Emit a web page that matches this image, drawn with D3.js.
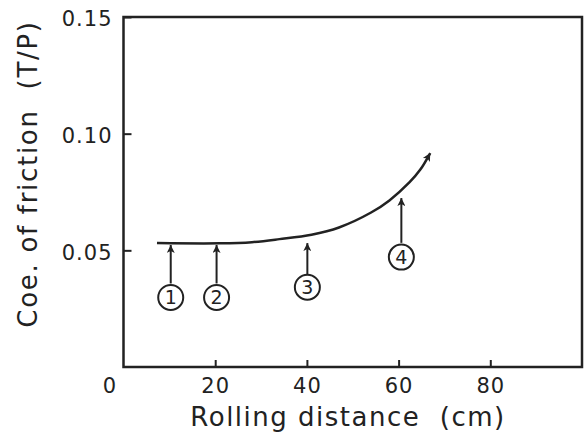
<!DOCTYPE html>
<html>
<head>
<meta charset="utf-8">
<script src="https://cdn.jsdelivr.net/npm/d3@7"></script>
<style>
  body { margin: 0; background: #fff; }
  text { font-family: "DejaVu Sans", sans-serif; fill: #222; }
</style>
</head>
<body>
<script>
var width = 587,
    height = 441;

// friction curve
var distance = [7.3, 21, 28, 34, 41, 47, 54, 58, 62.4, 64.7, 66.9];
var friction = [0.0531, 0.0530, 0.0535, 0.0548, 0.0567, 0.0598, 0.0662, 0.0714, 0.0792, 0.0845, 0.0917];

// numbered markers: x position, arrow tip, arrow tail, circle centre
var markerNames = ["1", "2", "3", "4"];
var markerX = [10.3, 20.3, 40.1, 60.6];
var markerTip = [0.0523, 0.0523, 0.0531, 0.0724];
var markerTail = [0.0358, 0.0358, 0.0398, 0.0532];
var markerLabel = [0.0298, 0.0298, 0.0342, 0.0471];

var xTicks = [20, 40, 60, 80];
var yTicks = [0.05, 0.10, 0.15];

var ink = "#222";

var x = d3.scaleLinear()
          .domain([0, 100])
          .range([123.5, 582]);

var y = d3.scaleLinear()
          .domain([0, 0.15])
          .range([367, 17]);

var svg = d3.select("body")
            .append("svg")
            .attr("width", width)
            .attr("height", height);

// arrow heads
var defs = svg.append("defs");
defs.append("marker")
    .attr("id", "head")
    .attr("viewBox", "0 0 10 10")
    .attr("refX", 10)
    .attr("refY", 5)
    .attr("markerUnits", "userSpaceOnUse")
    .attr("markerWidth", 12)
    .attr("markerHeight", 8)
    .attr("orient", "auto")
    .append("path")
    .attr("d", "M0,0 L10,5 L0,10 L2.5,5 Z")
    .attr("fill", ink);

// frame
svg.append("rect")
   .attr("x", x(0))
   .attr("y", y(0.15))
   .attr("width", x(100) - x(0))
   .attr("height", y(0) - y(0.15))
   .attr("fill", "none")
   .attr("stroke", ink)
   .attr("stroke-width", 2.5);

var yAxis = d3.axisLeft(y)
              .tickValues(yTicks)
              .tickSize(-8)
              .tickPadding(11)
              .tickFormat(d3.format(".2f"));

var xAxis = d3.axisBottom(x)
              .tickValues(xTicks)
              .tickSize(-7)
              .tickPadding(11);

var gy = svg.append("g")
            .attr("transform", "translate(" + x(0) + ",0)")
            .call(yAxis);

var gx = svg.append("g")
            .attr("transform", "translate(0," + y(0) + ")")
            .call(xAxis);

[gx, gy].forEach(function(g) {
  g.select(".domain").remove();
  g.selectAll("line").attr("stroke", ink).attr("stroke-width", 2);
  g.selectAll("text")
   .attr("font-size", 21)
   .attr("letter-spacing", 1)
   .attr("fill", ink);
});
gy.selectAll("text").attr("dy", "0.42em");

// shared origin label
svg.append("text")
   .attr("x", x(0) - 14)
   .attr("y", y(0) + 26)
   .attr("text-anchor", "middle")
   .attr("font-size", 21)
   .text("0");

// axis titles
svg.append("text")
   .attr("x", 348)
   .attr("y", 426)
   .attr("text-anchor", "middle")
   .attr("font-size", 26)
   .attr("letter-spacing", 1.5)
   .style("white-space", "pre")
   .text("Rolling distance  (cm)");

svg.append("text")
   .attr("transform", "translate(37,174) rotate(-90)")
   .attr("text-anchor", "middle")
   .attr("font-size", 26)
   .attr("letter-spacing", 1.7)
   .style("white-space", "pre")
   .text("Coe. of friction  (T/P)");

// curve
var line = d3.line()
             .x(function(d) { return x(d[0]); })
             .y(function(d) { return y(d[1]); })
             .curve(d3.curveCatmullRom.alpha(0.5));

svg.append("path")
   .datum(d3.zip(distance, friction))
   .attr("d", line)
   .attr("fill", "none")
   .attr("stroke", ink)
   .attr("stroke-width", 2.5)
   .attr("marker-end", "url(#head)");

// numbered arrows
var marks = svg.selectAll(".mark")
               .data(markerNames)
               .enter()
               .append("g")
               .attr("class", "mark");

marks.append("line")
     .attr("x1", function(d, i) { return x(markerX[i]); })
     .attr("x2", function(d, i) { return x(markerX[i]); })
     .attr("y1", function(d, i) { return y(markerTail[i]); })
     .attr("y2", function(d, i) { return y(markerTip[i]); })
     .attr("stroke", ink)
     .attr("stroke-width", 2)
     .attr("marker-end", "url(#head)");

marks.append("circle")
     .attr("cx", function(d, i) { return x(markerX[i]); })
     .attr("cy", function(d, i) { return y(markerLabel[i]); })
     .attr("r", 12.5)
     .attr("fill", "none")
     .attr("stroke", ink)
     .attr("stroke-width", 2);

marks.append("text")
     .attr("x", function(d, i) { return x(markerX[i]); })
     .attr("y", function(d, i) { return y(markerLabel[i]); })
     .attr("dy", "0.36em")
     .attr("text-anchor", "middle")
     .attr("font-size", 19)
     .text(function(d) { return d; });
</script>
</body>
</html>
